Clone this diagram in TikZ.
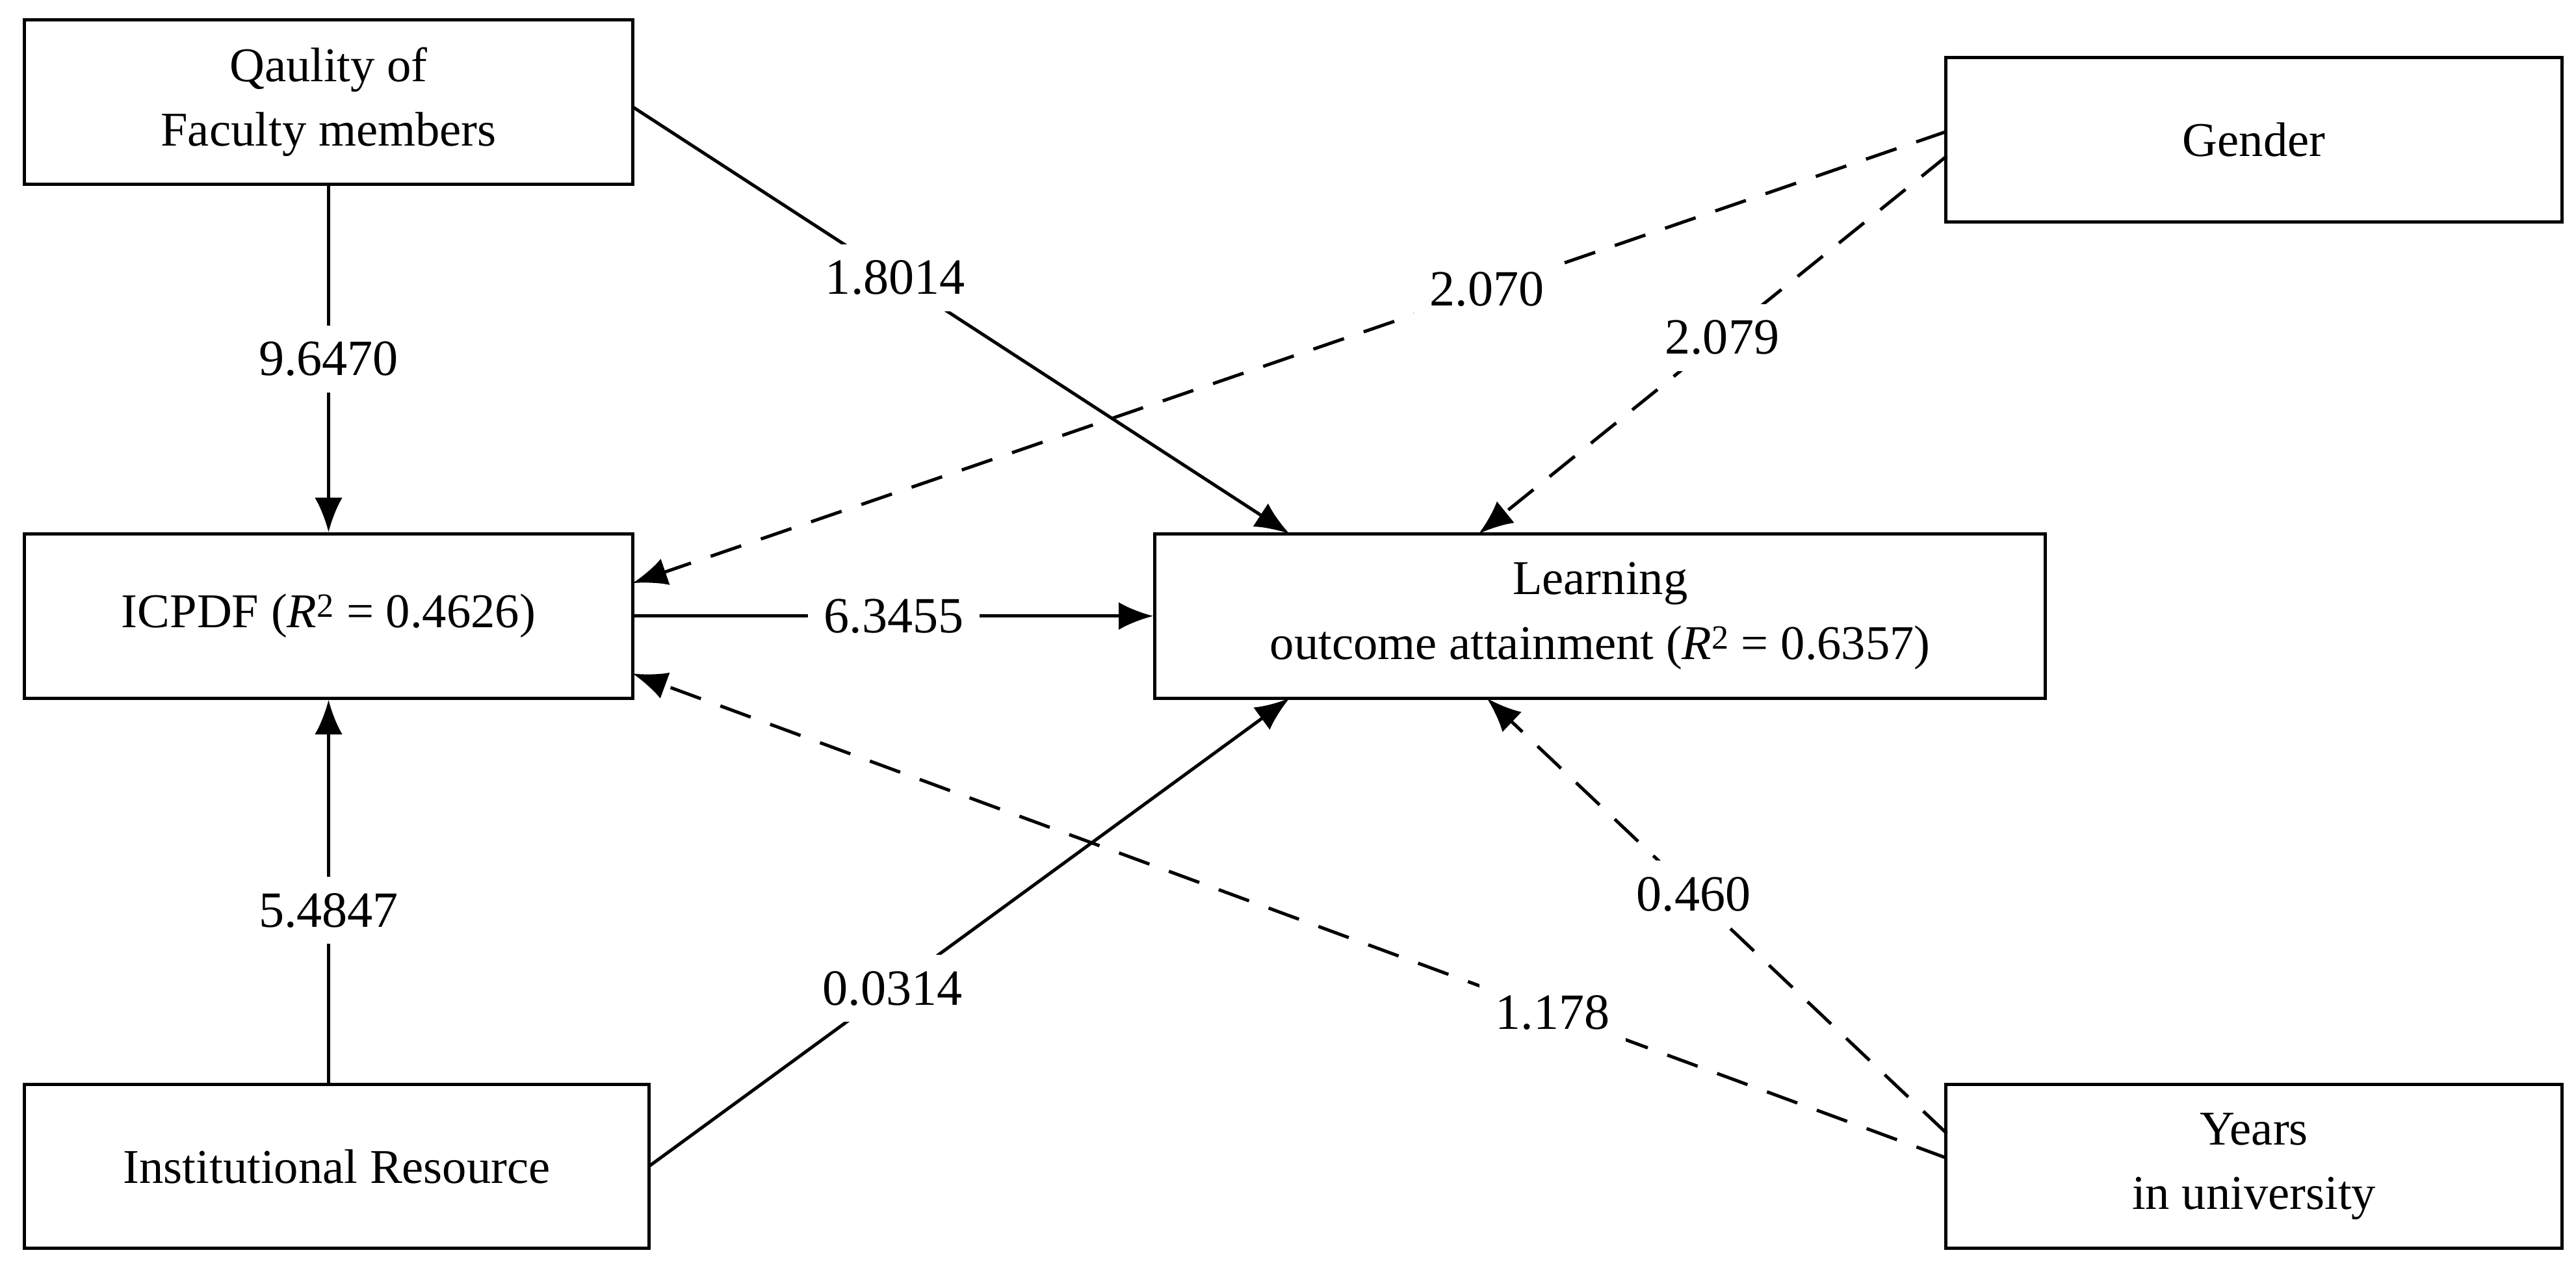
\documentclass[tikz,border=0pt]{standalone}
\usepackage{fontspec}
\setmainfont{Liberation Serif}
\usetikzlibrary{arrows.meta}
\begin{document}
\begin{tikzpicture}[x=0.05cm,y=-0.05cm,
  box/.style={draw,line width=2.8pt,minimum height=5cm,align=center,font=\fontsize{42}{56}\selectfont},
  lab/.style={fill=white,inner sep=14pt,font=\fontsize{44}{50}\selectfont},
  con/.style={line width=2.8pt,-{Latex[length=30pt,width=24pt]}},
  dsh/.style={con,dash pattern=on 28pt off 18pt}]
\useasboundingbox (0,0) rectangle (1568,773);
\node[box,minimum width=18.5cm] (q) at (200,62) {Qaulity of\\Faculty members};
\node[box,minimum width=18.75cm] (g) at (1372,85) {Gender};
\node[box,minimum width=18.5cm] (i) at (200,375) {ICPDF (\textit{R}\textsuperscript{2} = 0.4626)};
\node[box,minimum width=27.1cm] (l) at (974,375) {Learning\\outcome attainment (\textit{R}\textsuperscript{2} = 0.6357)};
\node[box,minimum width=19cm] (r) at (205,710) {Institutional Resource};
\node[box,minimum width=18.75cm] (y) at (1372,710) {Years\\in university};
\draw[con] (q.south) -- node[lab] {9.6470} (i.north);
\draw[con] (r.north -| i.south) -- node[lab,pos=0.45] {5.4847} (i.south);
\draw[con] (i.east) -- node[lab] {6.3455} (l.west);
\draw[con] (385,65) -- node[lab,pos=0.4] {1.8014} (785,325);
\draw[con] (395,710) -- node[lab,pos=0.38] {0.0314} (785,425);
\draw[dsh] (1185,80) -- node[lab,pos=0.35] {2.070} (385,355);
\draw[dsh] (1185,95) -- node[lab,pos=0.48] {2.079} (900,325);
\draw[dsh] (1185,705) -- node[lab,pos=0.3] {1.178} (385,410);
\draw[dsh] (1185,690) -- node[lab,pos=0.55] {0.460} (905,425);
\end{tikzpicture}
\end{document}
